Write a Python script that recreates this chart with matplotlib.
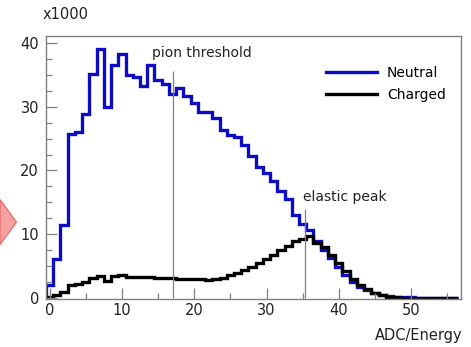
import numpy as np
import matplotlib
matplotlib.use("Agg")
import matplotlib.pyplot as plt
from matplotlib.lines import Line2D
from matplotlib.patches import Polygon
from matplotlib.ticker import MultipleLocator

# histogram contents (x1000 counts), one per 1-unit bin starting at -0.5
neutral = [2.1, 6.2, 11.5, 25.7, 26.1, 28.8, 35.1, 39.1, 29.9, 36.5,
           38.3, 34.9, 34.6, 33.2, 36.5, 34.2, 33.6, 32.0, 32.9, 31.7,
           30.5, 29.1, 29.1, 28.2, 26.4, 25.6, 25.2, 24.0, 22.3, 20.6,
           19.6, 18.4, 16.8, 15.6, 13.0, 11.6, 10.6, 8.9, 7.6, 6.3,
           4.9, 3.6, 2.6, 1.8, 1.2, 0.75, 0.45, 0.3, 0.2, 0.15,
           0.12, 0.1, 0.08, 0.06, 0.05, 0.05, 0.04]
charged = [0.15, 0.5, 1.0, 2.1, 2.2, 2.5, 3.1, 3.4, 2.7, 3.5,
           3.6, 3.3, 3.3, 3.35, 3.3, 3.2, 3.1, 3.1, 3.05, 3.0,
           3.0, 2.95, 2.9, 3.0, 3.2, 3.6, 4.0, 4.4, 4.9, 5.5,
           6.1, 6.8, 7.6, 8.2, 8.9, 9.3, 9.7, 8.6, 8.0, 6.8,
           5.5, 4.2, 3.0, 2.1, 1.4, 0.8, 0.45, 0.25, 0.15, 0.1,
           0.07, 0.05, 0.04, 0.03, 0.03, 0.02, 0.02]
edges = np.arange(len(neutral) + 1) - 0.5

pion_x, pion_top = 17.1, 35.6
elastic_x, elastic_top = 35.3, 13.9

blue = "#0c0cc4"
grey = "#808080"

fig = plt.figure(figsize=(4.71, 3.47), dpi=100)
ax = fig.add_axes([0.0977, 0.138, 0.881, 0.758])

ax.stairs(neutral, edges, color=blue, lw=2.4, baseline=0)
ax.stairs(charged, edges, color="black", lw=2.4, baseline=0)

ax.vlines([pion_x, elastic_x], 0, [pion_top, elastic_top], color=grey, lw=0.9)
ax.text(14.2, 38.4, "pion threshold", fontsize=10, va="center", ha="left", color="#222222")
ax.text(35.0, 15.9, "elastic peak", fontsize=10, va="center", ha="left", color="#222222")

ax.set_xlim(-0.5, 56.9)
ax.set_ylim(-0.15, 41.05)
ax.xaxis.set_major_locator(MultipleLocator(10))
ax.xaxis.set_minor_locator(MultipleLocator(5))
ax.yaxis.set_major_locator(MultipleLocator(10))
ax.yaxis.set_minor_locator(MultipleLocator(2.5))
ax.tick_params(which="both", direction="in", color=grey, labelsize=10.5, labelcolor="#222222")
ax.tick_params(which="major", length=8, width=0.9)
ax.tick_params(which="minor", length=4, width=0.9)
ax.tick_params(axis="x", pad=3)
ax.tick_params(axis="y", pad=5)
for sp in ax.spines.values():
    sp.set_color(grey)
    sp.set_linewidth(1.0)

handles = [Line2D([], [], color=blue, lw=2.4), Line2D([], [], color="black", lw=2.4)]
fig.legend(handles, ["Neutral", "Charged"], loc="upper left", bbox_to_anchor=(0.692, 0.81),
           frameon=False, fontsize=10, handlelength=3.7, handletextpad=0.7,
           labelspacing=0.6, borderpad=0, borderaxespad=0)

fig.text(0.091, 0.958, "x1000", fontsize=10.5, va="center", ha="left", color="#222222")
fig.text(0.981, 0.032, "ADC/Energy", fontsize=10.5, va="center", ha="right", color="#222222")

# arrow tip peeking in from the left edge
fig.add_artist(Polygon([[0, 0.425], [0.035, 0.36], [0, 0.295]], closed=True,
                       transform=fig.transFigure, facecolor="#f9a0a0", edgecolor="#e86060", lw=0.8))

fig.savefig("out.png", dpi=100)
